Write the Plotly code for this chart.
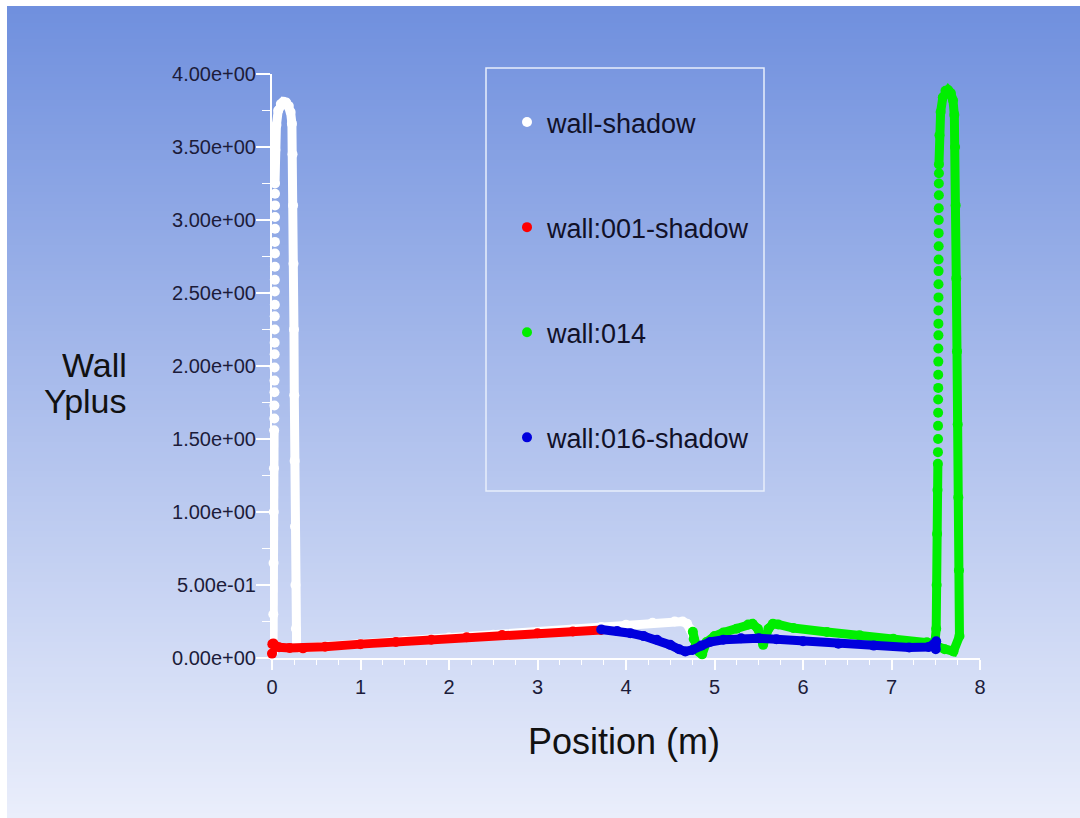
import base64, zlib, struct
import plotly.graph_objects as go

# ---------------- data ----------------
# wall-shadow (white): dense path (None = break where the markers are spaced)
WS_X = [0.012, 0.015, 0.018, 0.020, 0.022, 0.024, None,
        0.034, 0.038, 0.050, 0.070, 0.100, 0.130, 0.160, 0.190, 0.210, 0.225,
        0.232, 0.238, 0.243, 0.248, 0.252, 0.256, 0.260, 0.265, 0.270, 0.278,
        0.320, 0.600, 1.000, 1.500, 2.000, 2.500, 3.000, 3.400, 3.720, 4.000,
        4.300, 4.550, 4.640, 4.690, 4.730, 4.760]
WS_Y = [0.040, 0.300, 0.650, 1.000, 1.300, 1.560, None,
        3.250, 3.480, 3.650, 3.750, 3.795, 3.810, 3.805, 3.780, 3.740, 3.660,
        3.450, 3.100, 2.700, 2.250, 1.800, 1.350, 0.900, 0.500, 0.200, 0.080,
        0.068, 0.075, 0.098, 0.118, 0.140, 0.160, 0.178, 0.195, 0.212, 0.228,
        0.242, 0.250, 0.250, 0.235, 0.195, 0.150]
# wall-shadow: individually visible markers on the left leg
WS_DOT_X = [0.026, 0.027, 0.028, 0.028, 0.029, 0.030, 0.030, 0.031, 0.031, 0.032,
            0.032, 0.032, 0.033, 0.033, 0.033, 0.034, 0.034, 0.034, 0.034]
WS_DOT_Y = [1.64, 1.73, 1.82, 1.90, 1.99, 2.08, 2.16, 2.25, 2.34, 2.42,
            2.51, 2.59, 2.68, 2.77, 2.85, 2.94, 3.02, 3.10, 3.18]

# wall:001-shadow (red)
W001_X = [0.000, 0.004, 0.015, 0.035, 0.080, 0.200, 0.350, 0.600, 1.000, 1.400,
          1.800, 2.200, 2.600, 3.000, 3.400, 3.720]
W001_Y = [0.030, 0.095, 0.100, 0.085, 0.074, 0.068, 0.066, 0.077, 0.095, 0.110,
          0.125, 0.142, 0.158, 0.170, 0.182, 0.192]

# wall:014 (green): dense path
W014_X = [4.755, 4.765, 4.790, 4.830, 4.860, 4.910, 5.000, 5.100, 5.250, 5.380,
          5.430, 5.490, 5.550, 5.610, 5.660, 5.720, 5.890, 6.270, 6.640, 7.020,
          7.400, 7.490, 7.505, 7.510, 7.515, 7.520, 7.524, None,
          7.536, 7.542, 7.555, 7.580, 7.610, 7.640, 7.670, 7.695, 7.710, 7.718,
          7.725, 7.732, 7.740, 7.748, 7.755, 7.762, 7.768, 7.700, 7.600, 7.530]
W014_Y = [0.180, 0.130, 0.090, 0.040, 0.025, 0.110, 0.150, 0.175, 0.200, 0.230,
          0.235, 0.200, 0.090, 0.200, 0.235, 0.230, 0.205, 0.178, 0.155, 0.132,
          0.108, 0.100, 0.200, 0.500, 0.850, 1.150, 1.330, None,
          3.380, 3.580, 3.740, 3.840, 3.885, 3.890, 3.870, 3.820, 3.720, 3.500,
          3.100, 2.600, 2.100, 1.600, 1.100, 0.600, 0.150, 0.045, 0.060, 0.075]
# wall:014: individually visible markers on the left leg
W014_DOT_X = [7.525, 7.526, 7.526, 7.527, 7.527, 7.528, 7.528, 7.529, 7.529, 7.530,
              7.530, 7.530, 7.531, 7.531, 7.532, 7.532, 7.533, 7.533, 7.534, 7.534,
              7.535, 7.535, 7.536]
W014_DOT_Y = [1.41, 1.50, 1.59, 1.68, 1.77, 1.85, 1.94, 2.03, 2.12, 2.21,
              2.29, 2.38, 2.47, 2.56, 2.65, 2.73, 2.82, 2.91, 3.00, 3.08,
              3.17, 3.25, 3.32]

# wall:016-shadow (blue)
W016_X = [3.720, 3.900, 4.050, 4.200, 4.350, 4.500, 4.600, 4.670, 4.750, 4.850,
          4.950, 5.100, 5.300, 5.500, 5.700, 6.000, 6.400, 6.800, 7.200, 7.420,
          7.480, 7.500, 7.505]
W016_Y = [0.195, 0.185, 0.170, 0.150, 0.125, 0.090, 0.060, 0.045, 0.055, 0.085,
          0.110, 0.125, 0.135, 0.135, 0.128, 0.115, 0.098, 0.085, 0.072, 0.075,
          0.095, 0.060, 0.115]

SERIES = ["wall-shadow", "wall:001-shadow", "wall:014", "wall:016-shadow"]
COLORS = ["#ffffff", "#ff0000", "#00ee00", "#0000dd"]

Y_TICKS = [0, 0.5, 1, 1.5, 2, 2.5, 3, 3.5, 4]
Y_TICKTEXT = ["0.00e+00", "5.00e-01", "1.00e+00", "1.50e+00", "2.00e+00",
              "2.50e+00", "3.00e+00", "3.50e+00", "4.00e+00"]

# ---------------- geometry helpers ----------------
W, H = 1080, 818
ML, MR, MT, MB = 272, 100, 74, 160
PW, PH = W - ML - MR, H - MT - MB


def px_x(p):
    return (p - ML) / PW


def px_y(p):
    return (H - MB - p) / PH


def gradient_png(h, c0, c1):
    rows = b""
    for i in range(h):
        t = i / (h - 1)
        c = bytes(int(round(c0[k] + (c1[k] - c0[k]) * t)) for k in range(3))
        rows += b"\x00" + c * 2

    def chunk(tag, data):
        return (struct.pack(">I", len(data)) + tag + data
                + struct.pack(">I", zlib.crc32(tag + data) & 0xffffffff))

    png = b"\x89PNG\r\n\x1a\n"
    png += chunk(b"IHDR", struct.pack(">IIBBBBB", 2, h, 8, 2, 0, 0, 0))
    png += chunk(b"IDAT", zlib.compress(rows, 9))
    png += chunk(b"IEND", b"")
    return "data:image/png;base64," + base64.b64encode(png).decode()


def pts(xs, ys):
    ox, oy = [], []
    for a, b in zip(xs, ys):
        if a is not None:
            ox.append(a)
            oy.append(b)
    return ox, oy


fig = go.Figure()

groups = [
    (WS_X, WS_Y, WS_DOT_X, WS_DOT_Y),
    (W001_X, W001_Y, [], []),
    (W014_X, W014_Y, W014_DOT_X, W014_DOT_Y),
    (W016_X, W016_Y, [], []),
]

for name, color, (lx, ly, dx, dy) in zip(SERIES, COLORS, groups):
    fig.add_trace(go.Scatter(
        x=lx, y=ly, mode="lines", name=name, legendgroup=name,
        showlegend=False, line=dict(color=color, width=9),
        cliponaxis=False, connectgaps=False, hoverinfo="skip"))
    mx, my = pts(lx, ly)
    fig.add_trace(go.Scatter(
        x=mx + dx, y=my + dy, mode="markers", name=name, legendgroup=name,
        showlegend=True, cliponaxis=False,
        marker=dict(color=color, size=10, symbol="circle", line=dict(width=0))))

FONT = "Arial, 'Liberation Sans', sans-serif"
TICKCOL = "#1c1c3a"

fig.update_layout(
    width=W, height=H,
    margin=dict(l=ML, r=MR, t=MT, b=MB, pad=0),
    paper_bgcolor="#ffffff",
    plot_bgcolor="rgba(0,0,0,0)",
    font=dict(family=FONT, color=TICKCOL),
    showlegend=True,
    legend=dict(
        x=px_x(507), xanchor="left", y=px_y(98), yanchor="top",
        bgcolor="rgba(0,0,0,0)", borderwidth=0,
        font=dict(family=FONT, size=27, color="#111128"),
        traceorder="grouped", tracegroupgap=67, itemsizing="trace"),
    xaxis=dict(
        range=[0, 8], showgrid=False, zeroline=False,
        showline=True, linecolor="#ffffff", linewidth=2,
        ticks="outside", ticklen=10, tickwidth=1.5, tickcolor="#ffffff",
        dtick=1, tick0=0, layer="below traces",
        tickfont=dict(family=FONT, size=20, color=TICKCOL),
        minor=dict(ticks="outside", ticklen=5, tickwidth=1.2,
                   tickcolor="#ffffff", dtick=0.25, tick0=0, showgrid=False)),
    yaxis=dict(
        range=[0, 4], showgrid=False, zeroline=False,
        showline=True, linecolor="#ffffff", linewidth=2,
        ticks="outside", ticklen=14, tickwidth=1.5, tickcolor="#ffffff",
        tickmode="array", tickvals=Y_TICKS, ticktext=Y_TICKTEXT,
        layer="below traces", ticklabelstandoff=-4,
        tickfont=dict(family=FONT, size=20, color=TICKCOL),
        minor=dict(ticks="outside", ticklen=8, tickwidth=1.2,
                   tickcolor="#ffffff", tickmode="linear", tick0=0,
                   dtick=0.25, showgrid=False)),
    images=[dict(
        source=gradient_png(256, (112, 144, 222), (234, 238, 251)),
        xref="paper", yref="paper",
        x=px_x(7), y=px_y(6), sizex=(W - 7) / PW, sizey=(H - 6) / PH,
        xanchor="left", yanchor="top", sizing="stretch", layer="below")],
    shapes=[dict(
        type="rect", xref="paper", yref="paper",
        x0=px_x(486), x1=px_x(764), y0=px_y(491), y1=px_y(68),
        line=dict(color="#e8eefc", width=1.5), fillcolor="rgba(0,0,0,0)",
        layer="below")],
    annotations=[
        dict(text="Position (m)", xref="paper", yref="paper",
             x=px_x(624), y=px_y(741), xanchor="center", yanchor="middle",
             showarrow=False, font=dict(family=FONT, size=36, color="#111111")),
        dict(text="Wall", xref="paper", yref="paper", height=26,
             x=px_x(129), y=px_y(365), xanchor="right", yanchor="middle",
             showarrow=False, font=dict(family=FONT, size=34, color="#111111")),
        dict(text="Yplus", xref="paper", yref="paper", height=40,
             x=px_x(129), y=px_y(379), xanchor="right", yanchor="top",
             showarrow=False, font=dict(family=FONT, size=34, color="#111111")),
    ],
)

fig.write_html("out.html")
